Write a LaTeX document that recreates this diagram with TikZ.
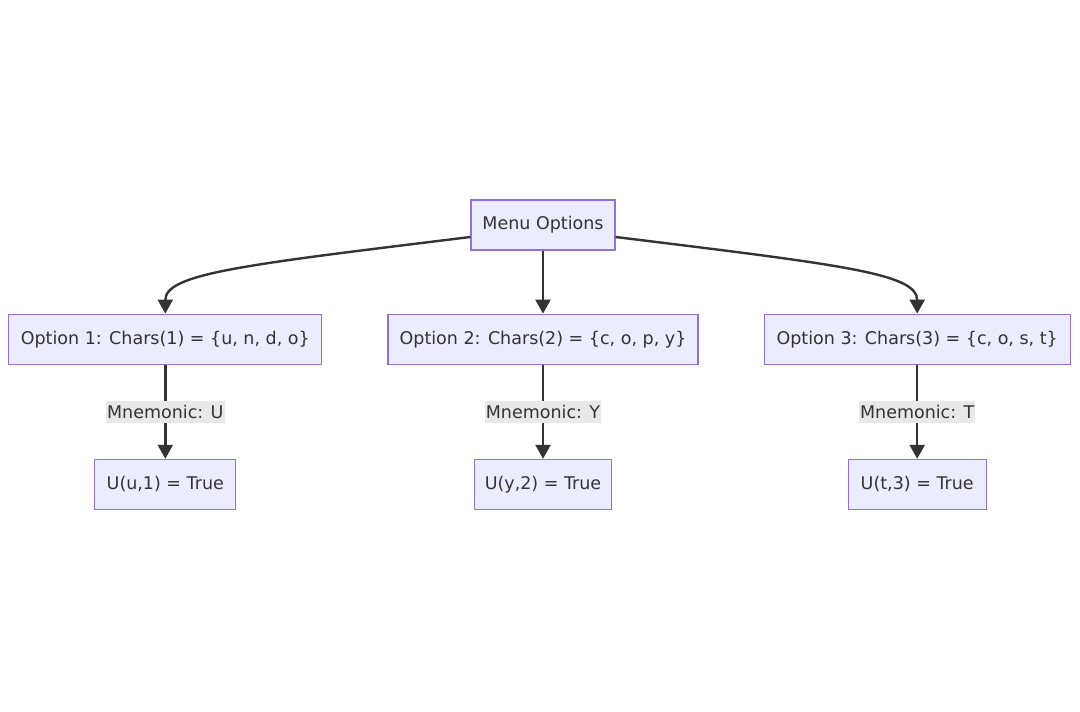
\documentclass[tikz,border=0pt]{standalone}
\usepackage{fontspec}
\setmainfont{DejaVu Sans}
\usepackage{xcolor}
\usetikzlibrary{positioning,arrows.meta}

\definecolor{boxfill}{HTML}{ECECFF}
\definecolor{boxline}{HTML}{9370DB}
\definecolor{ink}{HTML}{333333}
\definecolor{labelbg}{HTML}{E8E8E8}

\begin{document}
\begin{tikzpicture}[
    x=1pt, y=1pt,
    node distance=63pt,
    option/.style={rectangle, draw=boxline, fill=boxfill, line width=1.2pt, text=ink, font=\fontsize{17.5}{21}\selectfont, minimum height=50pt, inner xsep=0pt},
    arrow/.style={-{Triangle[length=14pt,width=15pt]}, draw=ink, line width=2.4pt},
    mnemonic/.style={fill=labelbg, text=ink, font=\fontsize{17.5}{21}\selectfont, inner xsep=1pt, inner ysep=4pt}
]
\useasboundingbox (0,0) rectangle (1080,-712);

\node[option, minimum width=144pt] (menu) at (543,-225) {Menu Options};

\node[option, minimum width=310pt, below=63pt of menu] (opt2) {Option 2: Chars(2) = \{c, o, p, y\}};
\node[option, minimum width=313pt, left=65pt of opt2] (opt1) {Option 1: Chars(1) = \{u, n, d, o\}};
\node[option, minimum width=306pt, right=65pt of opt2] (opt3) {Option 3: Chars(3) = \{c, o, s, t\}};

\node[option, minimum width=141pt, below=94pt of opt1] (res1) {U(u,1) = True};
\node[option, minimum width=137pt, below=94pt of opt2] (res2) {U(y,2) = True};
\node[option, minimum width=138pt, below=94pt of opt3] (res3) {U(t,3) = True};

\draw[arrow] ([yshift=-12pt]menu.west) .. controls +(187:230) and +(90:40) .. (opt1.north);
\draw[arrow] (menu) -- (opt2);
\draw[arrow] ([yshift=-12pt]menu.east) .. controls +(-7:230) and +(90:40) .. (opt3.north);

\draw[arrow] (opt1) -- (res1) node[midway, mnemonic] {Mnemonic: U};
\draw[arrow] (opt2) -- (res2) node[midway, mnemonic] {Mnemonic: Y};
\draw[arrow] (opt3) -- (res3) node[midway, mnemonic] {Mnemonic: T};

\end{tikzpicture}
\end{document}
